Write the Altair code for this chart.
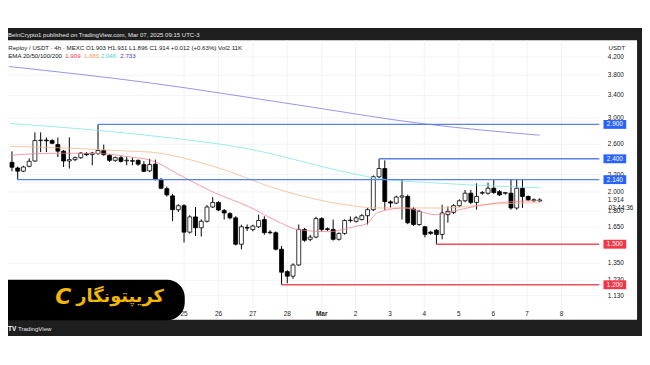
import altair as alt
import pandas as pd
import numpy as np

# ---------------- data ----------------
opens = [2.354, 2.282, 2.242, 2.303, 2.371, 2.653, 2.660, 2.653, 2.596, 2.503,
         2.371, 2.389, 2.415, 2.469, 2.459, 2.469, 2.513, 2.446, 2.380, 2.415,
         2.373, 2.375, 2.380, 2.325, 2.246, 2.330, 2.142, 2.036, 1.957, 1.814,
         1.854, 1.603, 1.743, 1.642, 1.702, 1.841, 1.888, 1.807, 1.775, 1.734,
         1.500, 1.645, 1.627, 1.651, 1.718, 1.603, 1.598, 1.459, 1.290, 1.258,
         1.338, 1.627, 1.541, 1.560, 1.727, 1.633, 1.627, 1.541, 1.592, 1.709,
         1.702, 1.718, 1.755, 1.814, 2.174, 2.275, 1.894, 1.881, 1.944, 1.951,
         1.821, 1.672, 1.651, 1.603, 1.620, 1.583, 1.765, 1.787, 1.854, 1.905,
         1.986, 1.888, 1.986, 1.986, 2.041, 2.003, 1.985, 1.986, 1.831, 2.041,
         1.951, 1.915, 1.903]
highs = [2.500, 2.300, 2.310, 2.406, 2.776, 2.776, 2.700, 2.675, 2.700, 2.520,
         2.700, 2.430, 2.490, 2.490, 2.490, 2.900, 2.596, 2.460, 2.430, 2.440,
         2.424, 2.415, 2.390, 2.370, 2.400, 2.389, 2.160, 2.060, 1.980, 1.870,
         1.870, 1.760, 1.841, 1.720, 1.860, 1.944, 1.900, 1.820, 1.790, 1.750,
         1.670, 1.672, 1.670, 1.765, 1.749, 1.620, 1.610, 1.486, 1.300, 1.350,
         1.672, 1.640, 1.580, 1.745, 1.740, 1.645, 1.718, 1.600, 1.720, 1.747,
         1.750, 1.770, 1.830, 2.190, 2.400, 2.380, 1.910, 1.960, 2.135, 1.970,
         1.840, 1.810, 1.660, 1.615, 1.630, 1.864, 1.847, 1.870, 1.920, 2.022,
         2.022, 2.097, 2.010, 2.104, 2.140, 2.020, 2.000, 2.149, 2.149, 2.149,
         1.960, 1.930, 1.931]
lows = [2.242, 2.140, 2.230, 2.290, 2.360, 2.490, 2.490, 2.600, 2.424, 2.294,
        2.275, 2.370, 2.400, 2.440, 2.316, 2.455, 2.440, 2.360, 2.360, 2.350,
        2.316, 2.316, 2.310, 2.230, 2.230, 2.130, 2.030, 1.950, 1.702, 1.790,
        1.514, 1.590, 1.569, 1.565, 1.690, 1.830, 1.800, 1.718, 1.720, 1.490,
        1.459, 1.613, 1.610, 1.640, 1.580, 1.585, 1.450, 1.200, 1.210, 1.240,
        1.330, 1.520, 1.525, 1.550, 1.610, 1.615, 1.530, 1.530, 1.580, 1.690,
        1.690, 1.710, 1.672, 1.800, 2.160, 1.814, 1.835, 1.870, 1.718, 1.675,
        1.660, 1.660, 1.558, 1.580, 1.500, 1.541, 1.688, 1.770, 1.840, 1.890,
        1.870, 1.814, 1.970, 1.970, 1.980, 1.955, 1.970, 1.814, 1.814, 1.831,
        1.900, 1.895, 1.896]
closes = [2.291, 2.242, 2.294, 2.367, 2.653, 2.660, 2.650, 2.614, 2.503, 2.371,
          2.389, 2.415, 2.477, 2.455, 2.477, 2.513, 2.455, 2.380, 2.415, 2.367,
          2.382, 2.369, 2.330, 2.240, 2.325, 2.142, 2.041, 1.968, 1.814, 1.854,
          1.603, 1.743, 1.642, 1.702, 1.841, 1.888, 1.811, 1.781, 1.734, 1.500,
          1.651, 1.639, 1.657, 1.709, 1.598, 1.598, 1.459, 1.286, 1.258, 1.338,
          1.627, 1.533, 1.560, 1.727, 1.627, 1.627, 1.541, 1.592, 1.709, 1.712,
          1.734, 1.755, 1.814, 2.174, 2.275, 1.897, 1.881, 1.944, 1.957, 1.688,
          1.672, 1.797, 1.583, 1.592, 1.583, 1.781, 1.797, 1.854, 1.905, 1.986,
          1.888, 1.951, 1.993, 2.041, 1.993, 1.968, 1.993, 1.831, 2.041, 1.951,
          1.915, 1.905, 1.914]

# EMA lines: (candle index, value)
ema20_i = [-0.3, 4.4, 10, 15.8, 20, 24.2, 29.8, 35.5, 41.2, 46.8, 49.7, 55.3, 59.8,
           61.9, 63.7, 68.3, 73.9, 78, 83.6, 92]
ema20_p = [2.446, 2.469, 2.475, 2.469, 2.430, 2.380, 2.174, 1.986, 1.847, 1.688, 1.627,
           1.607, 1.654, 1.681, 1.784, 1.831, 1.765, 1.814, 1.875, 1.909]
ema50_i = [-0.3, 10, 20, 24.2, 35.5, 46.8, 58.1, 63.7, 75.1, 83.6, 92]
ema50_p = [2.570, 2.545, 2.505, 2.490, 2.294, 2.022, 1.864, 1.831, 1.831, 1.870, 1.885]
ema100_i = [-0.3, 12.4, 24.2, 41.2, 58.1, 63.7, 75.1, 92]
ema100_p = [2.915, 2.827, 2.726, 2.536, 2.232, 2.155, 2.097, 2.046]
ema200_i = [-0.5, 24.2, 49.7, 72.2, 92]
ema200_p = [3.988, 3.642, 3.230, 2.905, 2.733]

blue_levels = [2.900, 2.400, 2.140]
blue_start = [15, 64, 1]
red_levels = [1.500, 1.200]
red_start = [74, 47]

tick_prices = [4.2, 3.8, 3.4, 3.0, 2.6, 2.2, 2.0, 1.8, 1.65, 1.35, 1.23, 1.13]
day_labels = ["25", "26", "27", "28", "Mar", "2", "3", "4", "5", "6", "7", "8"]
day_pos = [30.0, 36.0, 42.0, 48.0, 54.0, 59.9, 65.9, 71.9, 77.9, 83.9, 89.8, 95.8]
last_price = 1.914

# ---------------- tables ----------------
candles = pd.DataFrame({"i": range(len(opens)), "o": opens, "h": highs, "l": lows, "c": closes})
up = candles[candles["c"] >= candles["o"]]
down = candles[candles["c"] < candles["o"]]

ticks = pd.DataFrame({"p": tick_prices, "t": [f"{v:.3f}" for v in tick_prices]})
days = pd.DataFrame({"i": day_pos, "t": day_labels})
days_plain = days[days["t"] != "Mar"]
days_month = days[days["t"] == "Mar"]
one = pd.DataFrame({"k": [0]})

FONT = "Liberation Sans"
W, H = 642, 357
xs = alt.Scale(domain=[1 / 5.9, 643 / 5.9], nice=False, zero=False)
ys = alt.Scale(type="log", domain=[0.78112, 5.43656], nice=False)
X = lambda f: alt.X(f, type="quantitative", scale=xs, axis=None)
Y = lambda f: alt.Y(f, type="quantitative", scale=ys, axis=None)


def txt(s, x, y, size=6, color="#131722", align="left", weight="normal", font=FONT, style="normal"):
    return alt.Chart(one).mark_text(text=s, align=align, baseline="middle", fontSize=size,
                                    color=color, fontWeight=weight, font=font, fontStyle=style).encode(
        x=alt.value(x), y=alt.value(y))


def rect(x, x2, y, y2, color, radius=0):
    return alt.Chart(one).mark_rect(color=color, cornerRadius=radius).encode(
        x=alt.value(x), x2=alt.value(x2), y=alt.value(y), y2=alt.value(y2))


def ema_layer(idx, vals, color):
    d = pd.DataFrame({"i": idx, "p": vals})
    return alt.Chart(d).mark_line(strokeWidth=0.9, opacity=0.85, interpolate="monotone",
                                  color=color).encode(x=X("i"), y=Y("p"))


def level_layers(prices, starts, line_color, box_color):
    d = pd.DataFrame({"i0": starts, "i1": [102.4] * len(prices), "p": prices,
                      "t": [f"{v:.3f}" for v in prices]})
    line = alt.Chart(d).mark_rule(strokeWidth=1.4, color=line_color).encode(
        x=X("i0"), x2="i1", y=Y("p"))
    box = alt.Chart(d).mark_tick(orient="horizontal", size=23, thickness=9, opacity=1,
                                 color=box_color).encode(x=alt.value(614.5), y=Y("p"))
    label = alt.Chart(d).mark_text(align="center", baseline="middle", fontSize=6.5,
                                   font=FONT, color="#ffffff").encode(
        x=alt.value(614.5), y=Y("p"), text="t:N")
    return [line], [box, label]


DARK = "#1e1e1e"
frame = [
    rect(0, W, 18, 30.5, DARK),
    rect(0, W, 313.5, 330, DARK),
    rect(637, W, 18, 330, DARK),
]

vgrid = alt.Chart(days).mark_rule(color="#f1f3f8", strokeWidth=1).encode(
    x=X("i"), y=alt.value(30.5), y2=alt.value(303))
hgrid = alt.Chart(ticks).mark_rule(color="#f1f3f8", strokeWidth=1).encode(
    y=Y("p"), x=alt.value(0), x2=alt.value(600))

emas = [
    ema_layer(ema200_i, ema200_p, "#7476da"),
    ema_layer(ema100_i, ema100_p, "#7ae4ee"),
    ema_layer(ema50_i, ema50_p, "#f9b585"),
    ema_layer(ema20_i, ema20_p, "#f27d8a"),
]

wicks = alt.Chart(candles).mark_rule(color="#000000", strokeWidth=1).encode(
    x=X("i"), y=Y("l"), y2="h")
up_bodies = alt.Chart(up).mark_bar(size=4, stroke="#000000", strokeWidth=0.8, color="#ffffff").encode(
    x=X("i"), y=Y("o"), y2="c")
down_bodies = alt.Chart(down).mark_bar(size=4, stroke="#000000", strokeWidth=0.8, color="#000000").encode(
    x=X("i"), y=Y("o"), y2="c")

blue_lines, blue_boxes = level_layers(blue_levels, blue_start, "#5b80e6", "#2962ff")
red_lines, red_boxes = level_layers(red_levels, red_start, "#ee4f5d", "#f23645")

tick_text = alt.Chart(ticks).mark_text(align="center", baseline="middle", fontSize=6.5,
                                       font=FONT, color="#131722").encode(
    x=alt.value(615.5), y=Y("p"), text="t:N")
last_df = pd.DataFrame({"p": [last_price], "t": [f"{last_price:.3f}"], "cd": ["03:44:36"]})
last_text = alt.Chart(last_df).mark_text(align="center", baseline="middle", fontSize=6.5,
                                         font=FONT, color="#131722").encode(
    x=alt.value(615.5), y=Y("p"), text="t:N")
countdown = alt.Chart(last_df).mark_text(align="left", baseline="middle", fontSize=6.5, dy=8,
                                         font=FONT, color="#131722").encode(
    x=alt.value(608), y=Y("p"), text="cd:N")

day_text = alt.Chart(days_plain).mark_text(baseline="middle", fontSize=6.5, font=FONT,
                                           color="#131722").encode(
    x=X("i"), y=alt.value(307.5), text="t:N")
month_text = alt.Chart(days_month).mark_text(baseline="middle", fontSize=6.5, font=FONT,
                                             fontWeight="bold", color="#131722").encode(
    x=X("i"), y=alt.value(307.5), text="t:N")

header = [
    txt("BeInCrypto1 published on TradingView.com, Mar 07, 2025 09:15 UTC-3", 0, 25, 6.1, "#e6e6e6"),
    txt("Reploy / USDT · 4h · MEXC  O1.903  H1.931  L1.896  C1.914  +0.012 (+0.63%)  Vol2.11K",
        0.3, 38.7, 6.2),
    txt("EMA 20/50/100/200", 0.3, 46.3, 6.2),
    txt("1.909", 58, 46.3, 6.2, "#f23645"),
    txt("1.885", 77, 46.3, 6.2, "#f7a35c"),
    txt("2.046", 94, 46.3, 6.2, "#4fd3e3"),
    txt("2.733", 113.7, 46.3, 6.2, "#3f3fc4"),
    txt("USDT", 616.5, 38, 6.2, align="center"),
    txt("TV", 0, 322.5, 6.5, "#ffffff", weight="bold"),
    txt("TradingView", 10, 322.5, 6.2, "#e6e6e6"),
]

logo = [
    rect(-40, 179, 273, 314, "#000000", 18),
    txt("C", 56, 290, 22, "#f2b705", align="center", weight="bold", font="DejaVu Sans", style="italic"),
    txt("کریپتونگار", 113.5, 290, 18, "#f2b705", align="center", weight="bold", font="DejaVu Sans"),
]

layers = (frame + [vgrid, hgrid, wicks, up_bodies, down_bodies] + emas + blue_lines + red_lines
          + [tick_text] + blue_boxes + red_boxes + [last_text, countdown, day_text, month_text]
          + header + logo)

chart = alt.layer(*layers).properties(
    width=W, height=H, padding=0, background="#ffffff",
    autosize=alt.AutoSizeParams(type="none"),
).configure_view(stroke=None)

chart.save("out.html", embed_options={"renderer": "svg", "actions": False})
